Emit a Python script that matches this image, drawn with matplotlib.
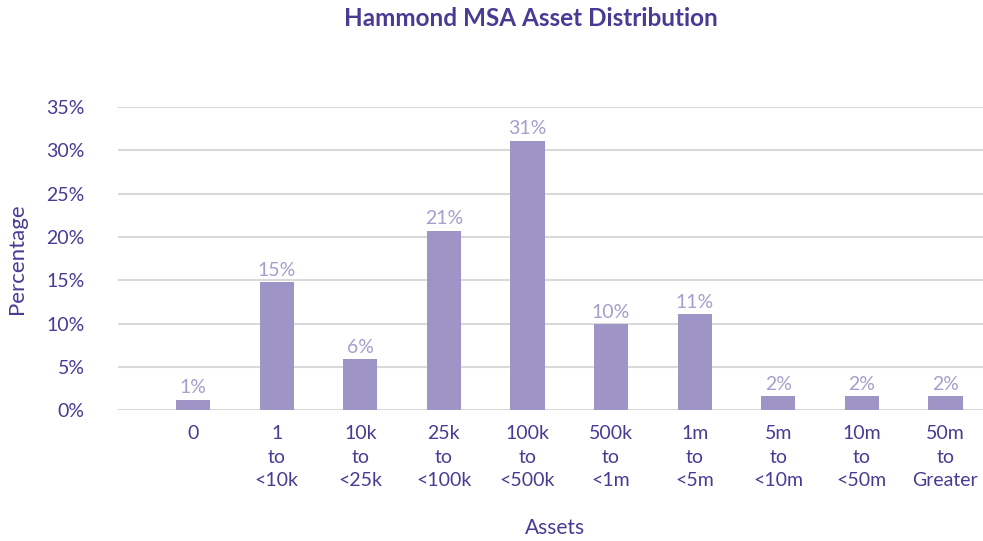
import matplotlib.pyplot as plt
import numpy as np

categories = ["0", "1\nto\n<10k", "10k\nto\n<25k", "25k\nto\n<100k", "100k\nto\n<500k",
              "500k\nto\n<1m", "1m\nto\n<5m", "5m\nto\n<10m", "10m\nto\n<50m", "50m\nto\nGreater"]
values = [1.2, 14.8, 5.9, 20.7, 31.1, 9.9, 11.1, 1.6, 1.6, 1.6]
labels = ["1%", "15%", "6%", "21%", "31%", "10%", "11%", "2%", "2%", "2%"]

dark = "#4B3A94"
bar_col = "#9E94C6"
lab_col = "#A69ECD"

plt.rcParams['font.family'] = ['Lato', 'DejaVu Sans']

fig = plt.figure(figsize=(9.83, 5.41), dpi=100)
ax = fig.add_axes([0.12, 0.242, 0.88, 0.56])

x = np.arange(len(categories))
bars = ax.bar(x, values, width=0.41, color=bar_col, zorder=3)
for b, t in zip(bars, labels):
    ax.text(b.get_x() + b.get_width() / 2, b.get_height() + 0.4, t,
            ha='center', va='bottom', color=lab_col, fontsize=14)

ax.set_ylim(0, 35)
ax.set_xlim(-0.9, 9.45)
ax.set_yticks(np.arange(0, 36, 5))
ax.set_yticklabels([f"{v}%" for v in range(0, 36, 5)])
ax.set_xticks(x)
ax.set_xticklabels(categories, linespacing=1.45)
ax.tick_params(axis='both', length=0, colors=dark, labelsize=14)
ax.tick_params(axis='y', pad=24)
ax.tick_params(axis='x', pad=11)
ax.grid(axis='y', color='#D9D9D9', linewidth=1.5, zorder=0)
for s in ax.spines.values():
    s.set_visible(False)

ax.set_ylabel("Percentage", color=dark, fontsize=16, labelpad=14)
fig.text(0.565, 0.005, "Assets", ha='center', va='bottom', color=dark, fontsize=15)
fig.text(0.54, 0.965, "Hammond MSA Asset Distribution", ha='center', va='center',
         color=dark, fontsize=17.5, fontweight='bold')

fig.savefig("out.png", dpi=100)
